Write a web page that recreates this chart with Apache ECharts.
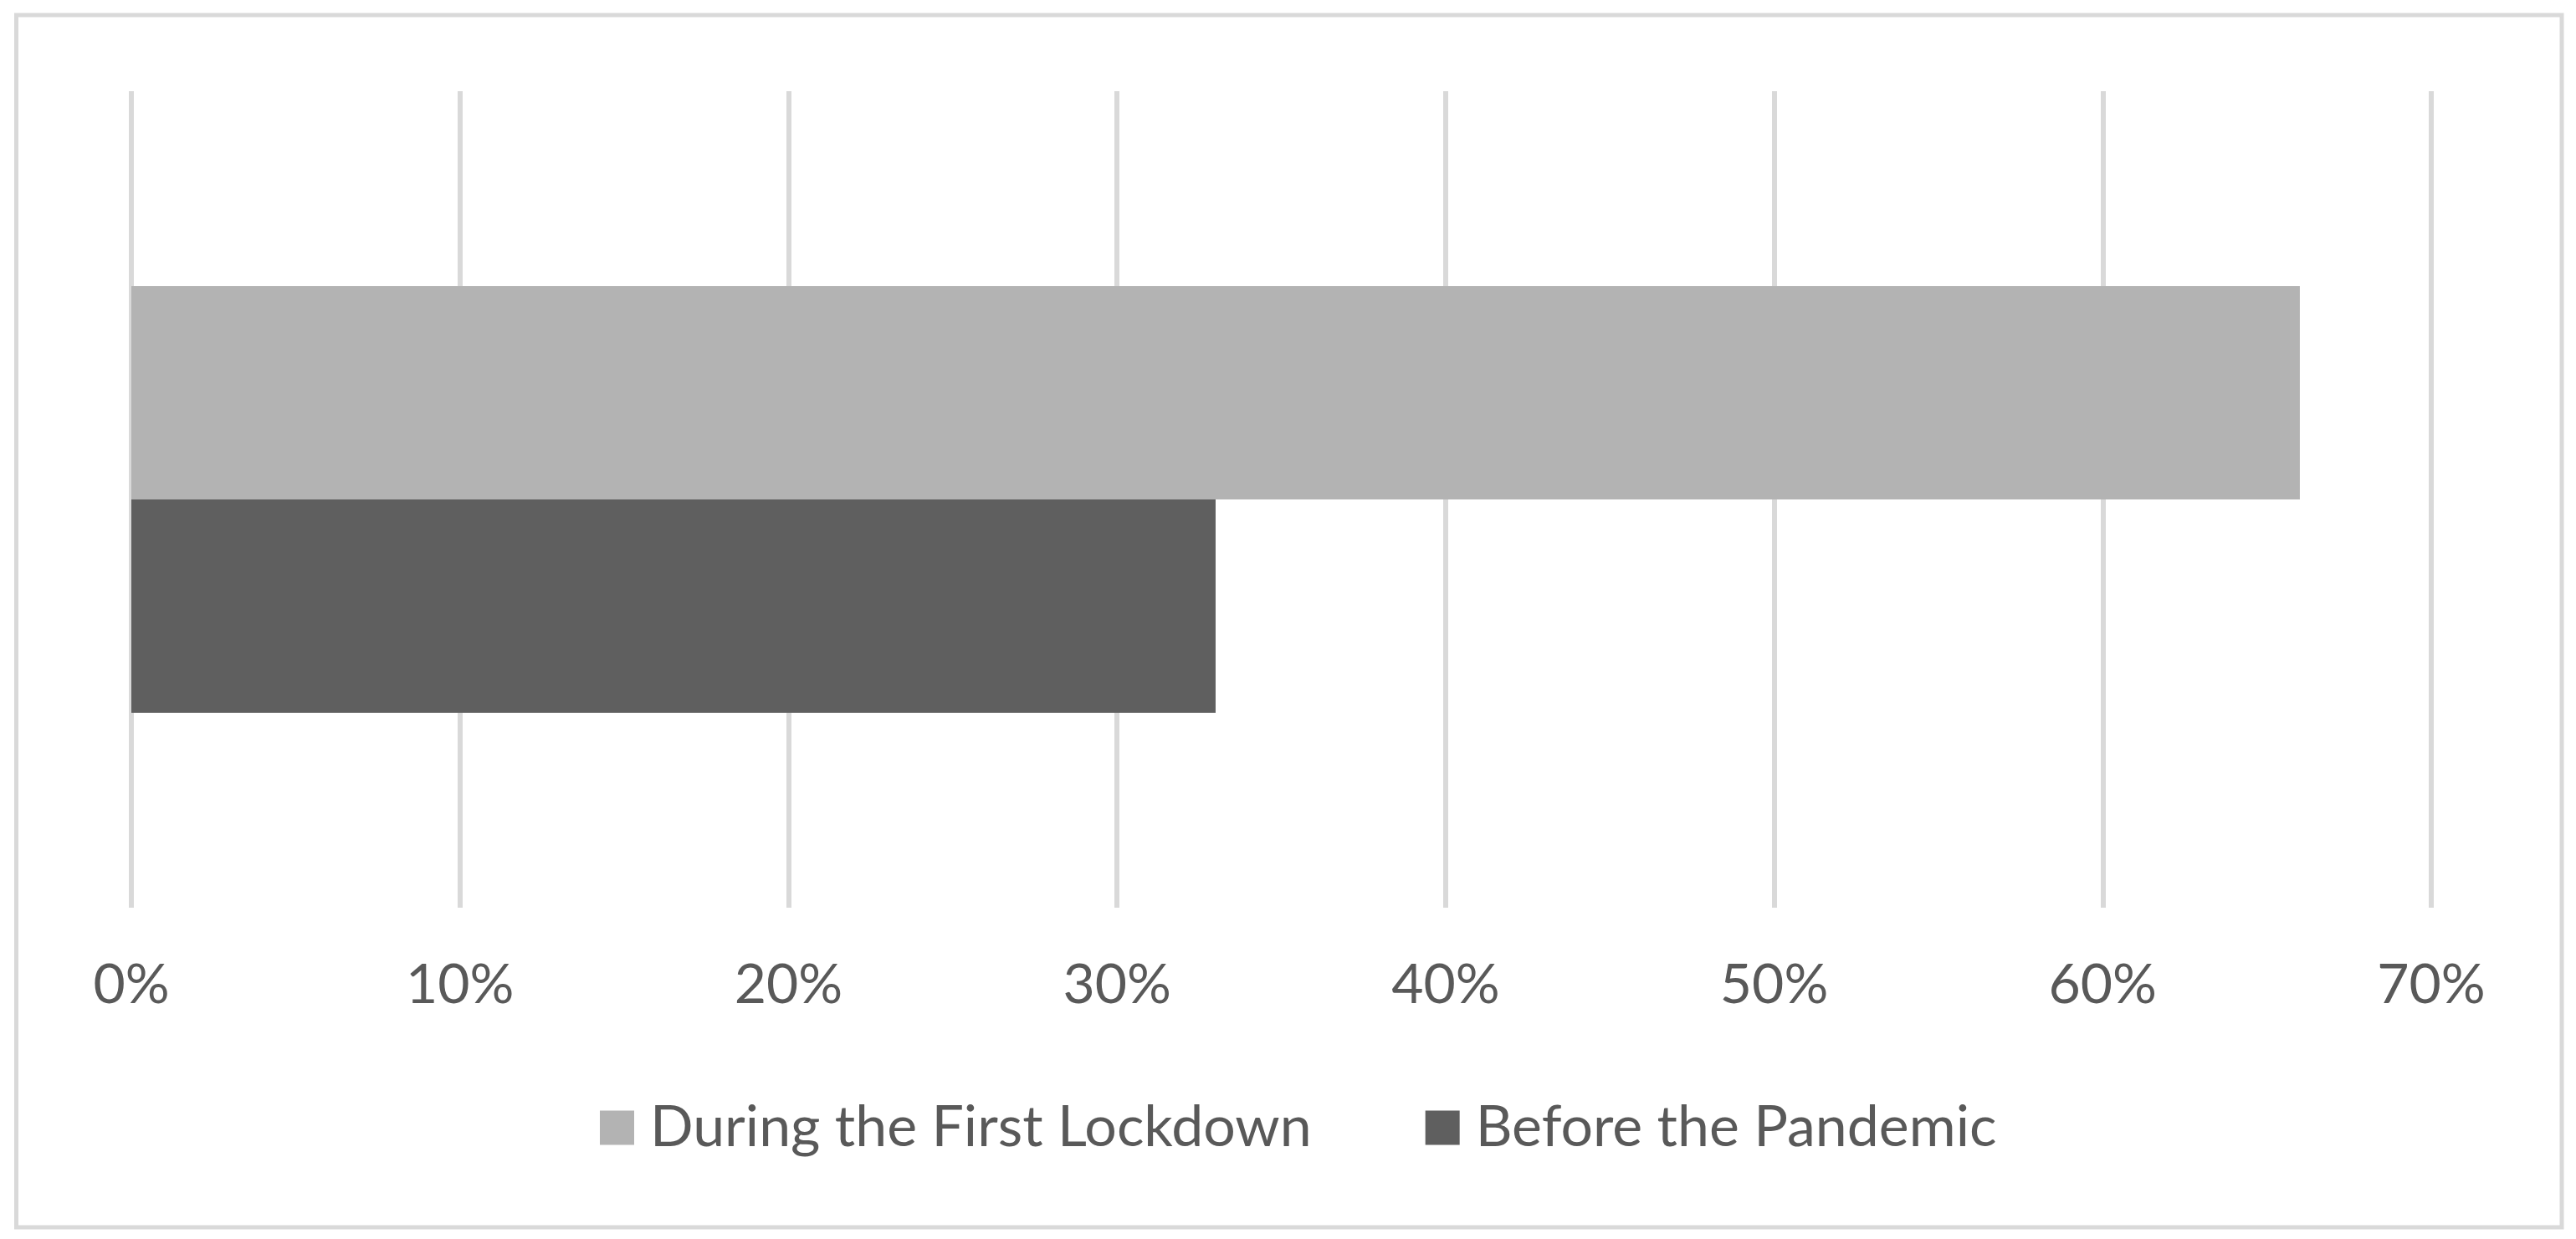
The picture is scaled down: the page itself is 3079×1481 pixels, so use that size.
<!DOCTYPE html>
<html>
<head>
<meta charset="utf-8">
<script src="https://cdn.jsdelivr.net/npm/echarts@6/dist/echarts.min.js"></script>
<style>html,body{margin:0;padding:0;background:#fff}#c{width:3079px;height:1481px}</style>
</head>
<body>
<div id="c"></div>
<script>
const categories = [''];
const seriesNames = ['During the First Lockdown', 'Before the Pandemic'];
const duringLockdown = [66];
const beforePandemic = [33];
const xTicks = [0, 10, 20, 30, 40, 50, 60, 70];

const chart = echarts.init(document.getElementById('c'));
const font = 'Lato, "Open Sans", sans-serif';
chart.setOption({
  backgroundColor: '#ffffff',
  animation: false,
  graphic: [{
    type: 'rect',
    shape: { x: 19.5, y: 18, width: 3042.5, height: 1449 },
    style: { fill: 'none', stroke: '#d9d9d9', lineWidth: 5 },
    z: -1
  }],
  grid: { left: 157, right: 173, top: 109, bottom: 396, containLabel: false },
  legend: {
    data: seriesNames,
    left: 712,
    top: 1309,
    itemWidth: 41,
    itemHeight: 41,
    itemGap: 136,
    icon: 'rect',
    textStyle: { color: '#595959', fontSize: 68, fontFamily: font, padding: [0, 0, 0, 14] }
  },
  xAxis: {
    type: 'value',
    min: xTicks[0],
    max: xTicks[xTicks.length - 1],
    interval: 10,
    axisLine: { show: false },
    axisTick: { show: false },
    splitLine: { show: true, lineStyle: { color: '#d9d9d9', width: 6 } },
    axisLabel: {
      color: '#595959', fontSize: 66, fontFamily: font, margin: 60,
      formatter: v => v + '%'
    }
  },
  yAxis: {
    type: 'category',
    data: categories,
    axisLine: { show: false },
    axisTick: { show: false },
    axisLabel: { show: false },
    splitLine: { show: false }
  },
  series: [
    {
      name: seriesNames[0], type: 'bar', data: duringLockdown,
      barWidth: 255, barGap: '0%',
      itemStyle: { color: '#b3b3b3' }
    },
    {
      name: seriesNames[1], type: 'bar', data: beforePandemic,
      barWidth: 255, barGap: '0%',
      itemStyle: { color: '#5f5f5f' }
    }
  ]
});
</script>
</body>
</html>
